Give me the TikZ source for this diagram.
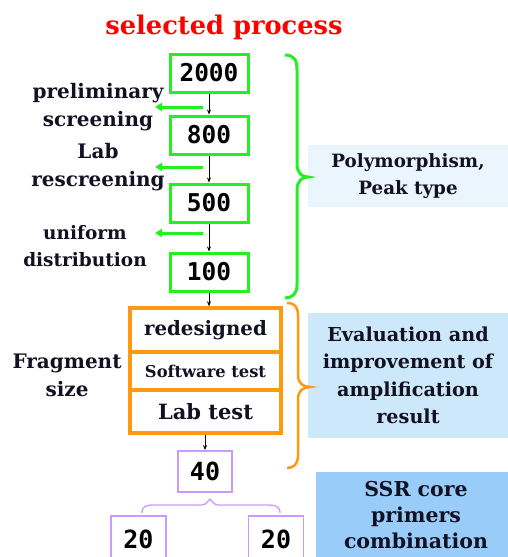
\documentclass[tikz,border=0pt]{standalone}
\usepackage{fontspec}
\setmainfont{DejaVu Serif}
\newfontfamily\numfont{DejaVu Sans Mono}
\usetikzlibrary{arrows.meta}
\definecolor{grn}{HTML}{22F022}
\definecolor{org}{HTML}{FF9A10}
\definecolor{prp}{HTML}{CC99FF}
\definecolor{blueA}{HTML}{EBF5FE}
\definecolor{blueB}{HTML}{CDE8FB}
\definecolor{blueC}{HTML}{99CCF8}
\definecolor{txt}{HTML}{111122}
\begin{document}
\begin{tikzpicture}[x=1pt,y=-1pt,
  gbox/.style={draw=grn,line width=3pt,minimum width=78pt,minimum height=38pt,inner sep=0pt,font=\numfont\bfseries\fontsize{24.5}{24.5}\selectfont},
  obox/.style={draw=org,line width=3.5pt,minimum width=151pt,inner sep=0pt,font=\bfseries\fontsize{19.8}{19.8}\selectfont,text=txt},
  pbox/.style={draw=prp,line width=1.8pt,minimum width=54pt,minimum height=41pt,inner sep=0pt,font=\numfont\bfseries\fontsize{25}{25}\selectfont},
  lbl/.style={align=center,font=\bfseries\fontsize{20}{28}\selectfont,text=txt},
  blk/.style={-{Stealth[length=5pt,width=4pt]},line width=0.9pt,black},
  garr/.style={-{Triangle[length=7pt,width=8pt]},line width=3pt,grn},
  bbox/.style={inner sep=0pt,align=center,text=txt}
]
\useasboundingbox (0,0) rectangle (508,557);

% title
\node[text=red,font=\bfseries\fontsize{25.7}{25.7}\selectfont] (title) at (224,27) {selected process};

% green boxes
\node[gbox] (b2000) at (209,73) {2000};
\node[gbox] (b800) at (209,135) {800};
\node[gbox] (b500) at (209,203) {500};
\node[gbox] (b100) at (209,272) {100};
\draw[blk] (b2000) -- (b800);
\draw[blk] (b800) -- (b500);
\draw[blk] (b500) -- (b100);

% green side arrows
\coordinate (g1s) at (203,107); \coordinate (g1e) at (155,107);
\coordinate (g2s) at (203,167); \coordinate (g2e) at (155,167);
\coordinate (g3s) at (203,233); \coordinate (g3e) at (155,233);
\draw[garr] (g1s) -- (g1e);
\draw[garr] (g2s) -- (g2e);
\draw[garr] (g3s) -- (g3e);

\node[lbl] (l1) at (98,107) {preliminary\\screening};
\node[lbl] (l2) at (98,167) {Lab\\rescreening};
\node[lbl,font=\bfseries\fontsize{18.5}{27}\selectfont] (l3) at (85,246.5) {uniform\\distribution};

% orange stack
\node[obox,minimum height=44pt] (red) at (205.5,330) {redesigned};
\node[obox,minimum height=38pt,font=\bfseries\fontsize{16.3}{16.3}\selectfont] (soft) at (205.5,371) {Software test};
\node[obox,minimum height=43pt,font=\bfseries\fontsize{21}{21}\selectfont] (lab) at (205.5,411.5) {Lab test};
\draw[blk] (b100.south) -- (b100.south |- red.north);
\node[lbl] (frag) at (67,375) {Fragment\\size};

% purple
\node[pbox] (b40) at (205,471.5) {40};
\draw[blk] (lab.south -| b40.north) -- (b40.north);
\node[pbox,minimum width=55pt,minimum height=46pt] (l20) at (138.5,539) {20};
\node[pbox,minimum width=55pt,minimum height=46pt] (r20) at (276,539) {20};
\draw[prp,line width=1.3pt] (142,513) .. controls (142,506) and (146,505) .. (155,505) -- (198,505) .. controls (205,505) .. (210,499) .. controls (215,505) .. (222,505) -- (266,505) .. controls (275,505) and (280,506) .. (280,513);

% right blue boxes
\node[bbox,fill=blueA,minimum width=200pt,minimum height=62pt,font=\bfseries\fontsize{18.3}{27}\selectfont] (poly) at (408,176) {Polymorphism,\\Peak type};
\node[bbox,fill=blueB,minimum width=200pt,minimum height=125pt,font=\bfseries\fontsize{19.2}{27.5}\selectfont] (eval) at (408,375.5) {Evaluation and\\improvement of\\amplification\\result};
\node[fill=blueC,inner sep=0pt,minimum width=192pt,minimum height=90pt,anchor=north west] (ssrbg) at (316,472) {};
\node[bbox,font=\bfseries\fontsize{20.5}{26}\selectfont] (ssr) at (416,515) {SSR core\\primers\\combination};

% braces
\draw[grn,line width=3pt] (285,55) .. controls (294,55) and (297,60) .. (297,70) -- (297,164) .. controls (297,173) and (302,177) .. (308,177) .. controls (302,177) and (297,181) .. (297,190) -- (297,285) .. controls (297,294) and (292,298) .. (285,298);
\draw[org,line width=2.5pt] (287,303) .. controls (295,303) and (298,307) .. (298,316) -- (298,375) .. controls (298,383) and (303,387) .. (310,387) .. controls (303,387) and (298,391) .. (298,399) -- (298,455) .. controls (298,464) and (294,468) .. (287,468);
\end{tikzpicture}
\end{document}
